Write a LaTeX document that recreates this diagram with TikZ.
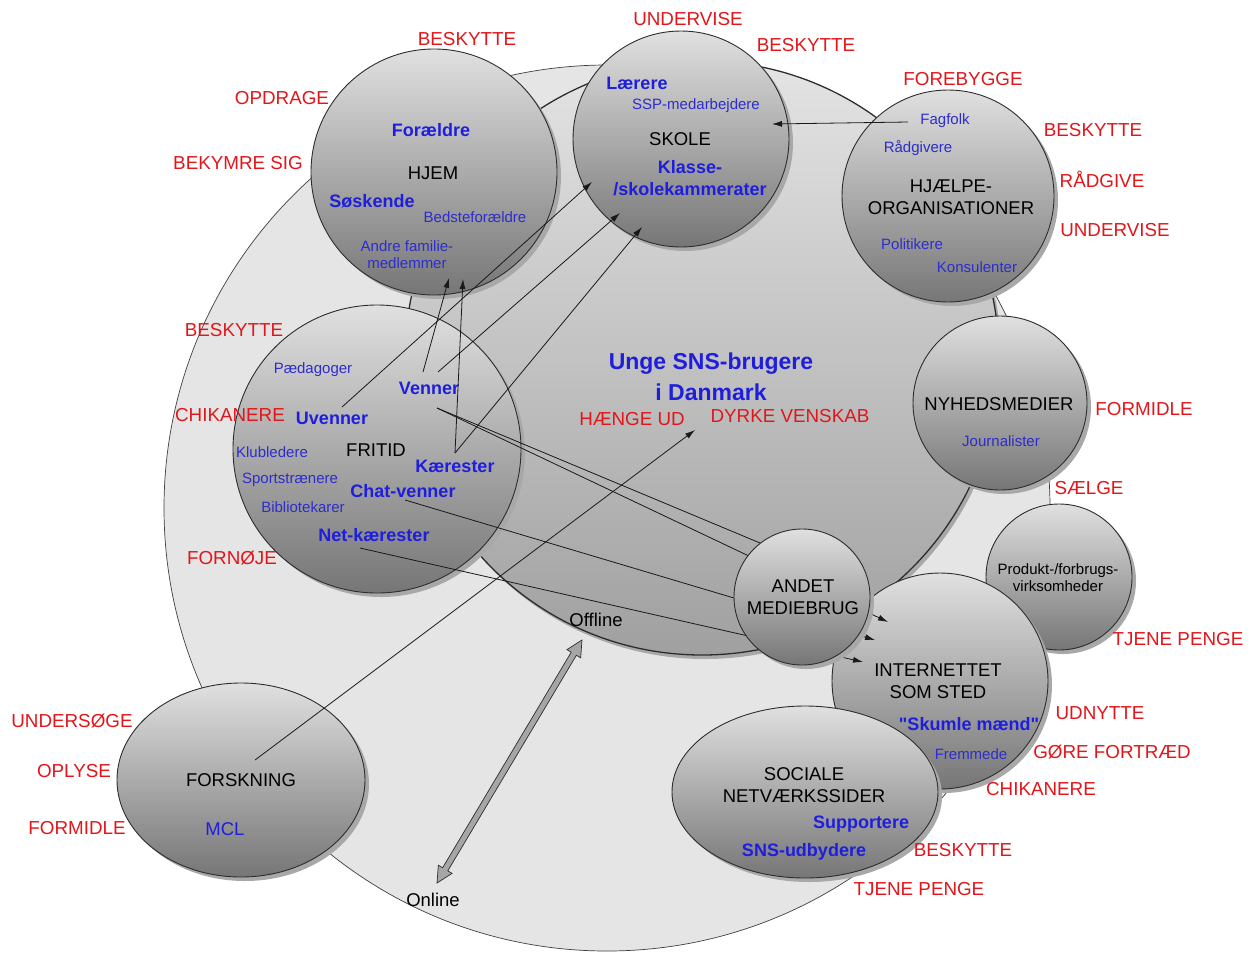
\documentclass[tikz,border=0pt]{standalone}
\usepackage{fontspec}
\setmainfont{Liberation Sans}[Ligatures=TeXOff]
\usetikzlibrary{arrows.meta,shapes.geometric}
\definecolor{labred}{RGB}{226,22,26}
\definecolor{tblue}{RGB}{30,30,220}
\definecolor{sblue}{RGB}{45,45,205}
\definecolor{outerfill}{RGB}{229,229,229}
\definecolor{shadowc}{RGB}{168,168,168}
\definecolor{btop}{RGB}{224,224,224}
\definecolor{bbot}{RGB}{118,118,118}
\definecolor{itop}{RGB}{228,228,228}
\definecolor{ibot}{RGB}{160,160,160}
\definecolor{edgec}{RGB}{45,45,45}
\definecolor{arrfill}{RGB}{166,166,166}
\tikzset{
  bub/.style={circle, draw=edgec, line width=0.9pt, top color=btop, bottom color=bbot, inner sep=0pt},
  ebub/.style={ellipse, draw=edgec, line width=0.9pt, top color=btop, bottom color=bbot, inner sep=0pt},
  shad/.style={fill=shadowc, draw=none, inner sep=0pt},
  lab/.style={text=labred, font=\fontsize{18.8}{22}\selectfont, anchor=base, inner sep=0pt},
  ttl/.style={text=black, font=\fontsize{18.5}{22}\selectfont, anchor=base, inner sep=0pt, align=center},
  bb/.style={text=tblue, font=\bfseries\fontsize{18}{22}\selectfont, anchor=base, inner sep=0pt, align=center},
  sb/.style={text=sblue, font=\fontsize{15}{17}\selectfont, anchor=base, inner sep=0pt, align=center},
  conn/.style={draw=black!90, line width=0.8pt},
  arr/.style={conn, -{Latex[length=10pt,width=6pt]}},
}
\begin{document}
\begin{tikzpicture}[x=1pt,y=-1pt]
\fill[white] (0,0) rectangle (1255,954);
\useasboundingbox (0,0) rectangle (1255,954);

% outer (online) and inner (offline) circles
\node[circle, draw=black!75, line width=0.7pt, fill=outerfill, minimum size=886pt, inner sep=0pt] (online) at (607,508) {};
\node[shad, circle, minimum size=594pt] at (705,362) {};
\node[circle, draw=edgec, line width=1.3pt, top color=itop, bottom color=ibot, minimum size=594pt, inner sep=0pt] (offline) at (702,358) {};

% bubbles
\node[shad, circle, minimum size=246pt] at (438,176) {};
\node[bub, minimum size=246pt] (hjem) at (434,172) {};
\node[shad, circle, minimum size=216pt] at (685,143) {};
\node[bub, minimum size=216pt] (skole) at (681,139) {};
\node[shad, circle, minimum size=212pt] at (952,200) {};
\node[bub, minimum size=212pt] (hjaelpe) at (948,196) {};
\node[shad, circle, minimum size=174pt] at (1004,407) {};
\node[bub, minimum size=174pt] (nyhed) at (1000,403) {};
\node[shad, circle, minimum size=146pt] at (1063,581) {};
\node[bub, minimum size=146pt] (produkt) at (1059,577) {};
\node[shad, circle, minimum size=216pt] at (944,685) {};
\node[bub, minimum size=216pt] (internet) at (940,681) {};
\node[shad, ellipse, minimum width=266pt, minimum height=172pt] at (809,796) {};
\node[ebub, minimum width=266pt, minimum height=172pt] (sociale) at (805,792) {};
\node[shad, circle, minimum size=288pt] at (381,453) {};
\node[bub, minimum size=288pt] (fritid) at (377,449) {};
\node[shad, ellipse, minimum width=248pt, minimum height=194pt] at (245,784) {};
\node[ebub, minimum width=248pt, minimum height=194pt] (forskning) at (241,780) {};

% texts in bubbles (multi-line nodes: base = baseline of last line)
\node[bb] (foraeldre) at (431,136) {Forældre};
\node[ttl] (thjem) at (433,179) {HJEM};
\node[bb] (soskende) at (372,207) {Søskende};
\node[sb] (bedste) at (475,222) {Bedsteforældre};
\node[sb] (andre) at (407,268) {Andre familie-\\medlemmer};

\node[bb] (laerere) at (637,89) {Lærere};
\node[sb] (ssp) at (696,109) {SSP-medarbejdere};
\node[ttl] (tskole) at (680,145) {SKOLE};
\node[bb] (klasse) at (690,195) {Klasse-\\/skolekammerater};

\node[sb] (fagfolk) at (945,124) {Fagfolk};
\node[sb] (raadgivere) at (918,152) {Rådgivere};
\node[ttl] (thjaelpe) at (951,214) {HJÆLPE-\\ORGANISATIONER};
\node[sb] (politikere) at (912,249) {Politikere};
\node[sb] (konsulenter) at (977,272) {Konsulenter};

\node[ttl] (tnyhed) at (999,410) {NYHEDSMEDIER};
\node[sb] (journalister) at (1001,446) {Journalister};

\node[sb, text=black] (tprodukt) at (1058,591) {Produkt-/forbrugs-\\virksomheder};

\node[ttl] (tinternet) at (938,698) {INTERNETTET\\SOM STED};
\node[bb] (skumle) at (969,730) {"Skumle mænd"};
\node[sb] (fremmede) at (971,759) {Fremmede};

\node[ttl] (tsociale) at (804,802) {SOCIALE\\NETVÆRKSSIDER};
\node[bb] (supportere) at (861,828) {Supportere};
\node[bb] (snsudb) at (804,856) {SNS-udbydere};

\node[sb] (paedagoger) at (313,373) {Pædagoger};
\node[bb] (venner) at (429,394) {Venner};
\node[bb] (uvenner) at (332,424) {Uvenner};
\node[sb] (klubledere) at (272,457) {Klubledere};
\node[ttl] (tfritid) at (376,456) {FRITID};
\node[bb] (kaerester) at (455,472) {Kærester};
\node[sb] (sport) at (290,483) {Sportstrænere};
\node[bb] (chat) at (403,497) {Chat-venner};
\node[sb] (biblio) at (303,512) {Bibliotekarer};
\node[bb] (netk) at (374,541) {Net-kærester};

\node[ttl] (tforskning) at (241,786) {FORSKNING};
\node[ttl, text=tblue] (mcl) at (225,835) {MCL};

\node[text=tblue, font=\bfseries\fontsize{23}{31}\selectfont, anchor=base, inner sep=0pt, align=center] (unge) at (711,400) {Unge SNS-brugere\\i Danmark};
\node[ttl] (toffline) at (596,626) {Offline};
\node[ttl] (tonline) at (433,906) {Online};

% red labels
\node[lab] (l1) at (467,45) {BESKYTTE};
\node[lab] (l2) at (282,104) {OPDRAGE};
\node[lab] (l3) at (238,169) {BEKYMRE SIG};
\node[lab] (l4) at (688,25) {UNDERVISE};
\node[lab] (l5) at (806,51) {BESKYTTE};
\node[lab] (l6) at (963,85) {FOREBYGGE};
\node[lab] (l7) at (1093,136) {BESKYTTE};
\node[lab] (l8) at (1102,187) {RÅDGIVE};
\node[lab] (l9) at (1115,236) {UNDERVISE};
\node[lab] (l10) at (1144,415) {FORMIDLE};
\node[lab] (l11) at (1089,494) {SÆLGE};
\node[lab] (l12) at (1178,645) {TJENE PENGE};
\node[lab] (l13) at (1100,719) {UDNYTTE};
\node[lab] (l14) at (1112,758) {GØRE FORTRÆD};
\node[lab] (l15) at (1041,795) {CHIKANERE};
\node[lab] (l16) at (963,856) {BESKYTTE};
\node[lab] (l17) at (919,895) {TJENE PENGE};
\node[lab] (l18) at (234,336) {BESKYTTE};
\node[lab] (l19) at (230,421) {CHIKANERE};
\node[lab] (l20) at (232,564) {FORNØJE};
\node[lab] (l21) at (72,727) {UNDERSØGE};
\node[lab] (l22) at (74,777) {OPLYSE};
\node[lab] (l23) at (77,834) {FORMIDLE};
\node[lab] (l24) at (632,425) {HÆNGE UD};
\node[lab] (l25) at (790,422) {DYRKE VENSKAB};

% connector end points
\coordinate (vA) at (423,372);
\coordinate (vB) at (438,372);
\coordinate (vC) at (437,408);
\coordinate (kA) at (455,453);
\coordinate (uA) at (342,407);
\coordinate (cA) at (405,500);
\coordinate (nA) at (360,548);
\coordinate (fA) at (255,760);
\coordinate (fagA) at (908,122);
\coordinate (hjT1) at (449,278);
\coordinate (hjT2) at (463,279);
\coordinate (skT1) at (592,182);
\coordinate (skT2) at (620,213);
\coordinate (skT3) at (642,227);
\coordinate (skT4) at (772,124);
\coordinate (anT) at (772,548);
\coordinate (inT1) at (888,622);
\coordinate (inT2) at (875,640);
\coordinate (inT3) at (863,662);
\coordinate (ctT) at (695,430);

% connectors
\draw[arr] (fagA) -- (skT4);
\draw[arr] (vA) -- (hjT1);
\draw[arr] (kA) -- (hjT2);
\draw[arr] (uA) -- (skT1);
\draw[arr] (vB) -- (skT2);
\draw[arr] (kA) -- (skT3);
\draw[arr] (vC) -- (anT);
\draw[arr] (vC) -- (inT1);
\draw[arr] (cA) -- (inT2);
\draw[arr] (nA) -- (inT3);
\draw[arr] (fA) -- (ctT);

% ANDET MEDIEBRUG on top of the lines
\node[shad, circle, minimum size=136pt] at (806,601) {};
\node[bub, minimum size=136pt] (andet) at (802,597) {};
\node[ttl] (tandet) at (803,614) {ANDET\\MEDIEBRUG};

% offline <-> online block arrow
\filldraw[fill=arrfill, draw=edgec, line width=0.7pt]
  (437,883) -- (452.07,873.36) -- (447.78,870.80) -- (576.38,655.28) -- (580.67,657.84)
  -- (582,640) -- (566.93,649.64) -- (571.22,652.2) -- (442.62,867.72) -- (438.33,865.16) -- cycle;
\end{tikzpicture}
\end{document}
